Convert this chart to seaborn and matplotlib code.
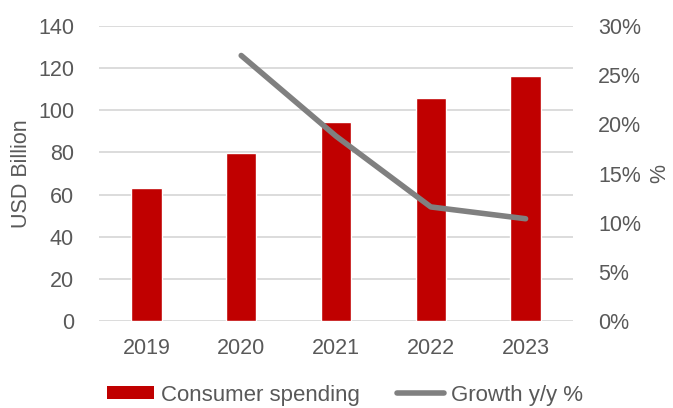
import matplotlib
matplotlib.use("Agg")
import matplotlib.pyplot as plt
import seaborn as sns
import pandas as pd
from matplotlib.patches import Patch
from matplotlib.lines import Line2D
from matplotlib.ticker import FuncFormatter

years = ["2019", "2020", "2021", "2022", "2023"]
spending = [63.0, 79.6, 94.5, 106.0, 116.5]
growth_years = ["2020", "2021", "2022", "2023"]
growth = [27.0, 18.8, 11.6, 10.4]

bar_color = "#C00000"
line_color = "#808080"
text_color = "#595959"
grid_color = "#D9D9D9"

sns.set_theme(style="white")
plt.rcParams["font.family"] = ["Liberation Sans", "DejaVu Sans"]
plt.rcParams["font.size"] = 15.5

df_bar = pd.DataFrame({"year": years, "value": spending})
df_line = pd.DataFrame({"year": growth_years, "growth": growth})
df_line["pos"] = [years.index(y) for y in growth_years]

fig = plt.figure(figsize=(6.73, 4.08), dpi=100)
ax = fig.add_axes([99 / 673, 1 - 321 / 408, 474 / 673, 295 / 408])

sns.barplot(data=df_bar, x="year", y="value", color=bar_color, width=0.32,
            saturation=1, ax=ax, zorder=2)
ax.set_ylim(0, 140)
ax.set_yticks(range(0, 141, 20))
ax.set_xlim(-0.5, 4.5)
ax.yaxis.grid(True, color=grid_color, linewidth=1.3, zorder=0)
ax.set_axisbelow(True)
for s in ax.spines.values():
    s.set_visible(False)
ax.tick_params(axis="both", length=0, colors=text_color, labelsize=15.5)
ax.tick_params(axis="x", pad=12)
ax.tick_params(axis="y", pad=18)
ax.set_xlabel("")
ax.set_ylabel("USD Billion", color=text_color, fontsize=15.5, labelpad=4)

ax2 = ax.twinx()
sns.lineplot(data=df_line, x="pos", y="growth", color=line_color, linewidth=4,
             ax=ax2, solid_capstyle="round", solid_joinstyle="round")
ax2.set_ylim(0, 30)
ax2.set_yticks(range(0, 31, 5))
ax2.yaxis.set_major_formatter(FuncFormatter(lambda v, p: f"{v:.0f}%"))
ax2.set_xlim(-0.5, 4.5)
for s in ax2.spines.values():
    s.set_visible(False)
ax2.tick_params(axis="y", length=0, colors=text_color, labelsize=15.5, pad=18)
ax2.set_xlabel("")
ax2.set_ylabel("%", color=text_color, fontsize=15.5, labelpad=6)

handles = [Patch(facecolor=bar_color, edgecolor="none"),
           Line2D([0], [0], color=line_color, linewidth=4, solid_capstyle="round")]
fig.legend(handles, ["Consumer spending", "Growth y/y %"], loc="center",
           bbox_to_anchor=(345 / 673, 1 - 395 / 408), ncol=2, frameon=False,
           fontsize=16, labelcolor=text_color, handlelength=2.1, handleheight=0.53,
           columnspacing=1.7, handletextpad=0.3, borderpad=0, borderaxespad=0)

fig.savefig("out.png", dpi=100)
